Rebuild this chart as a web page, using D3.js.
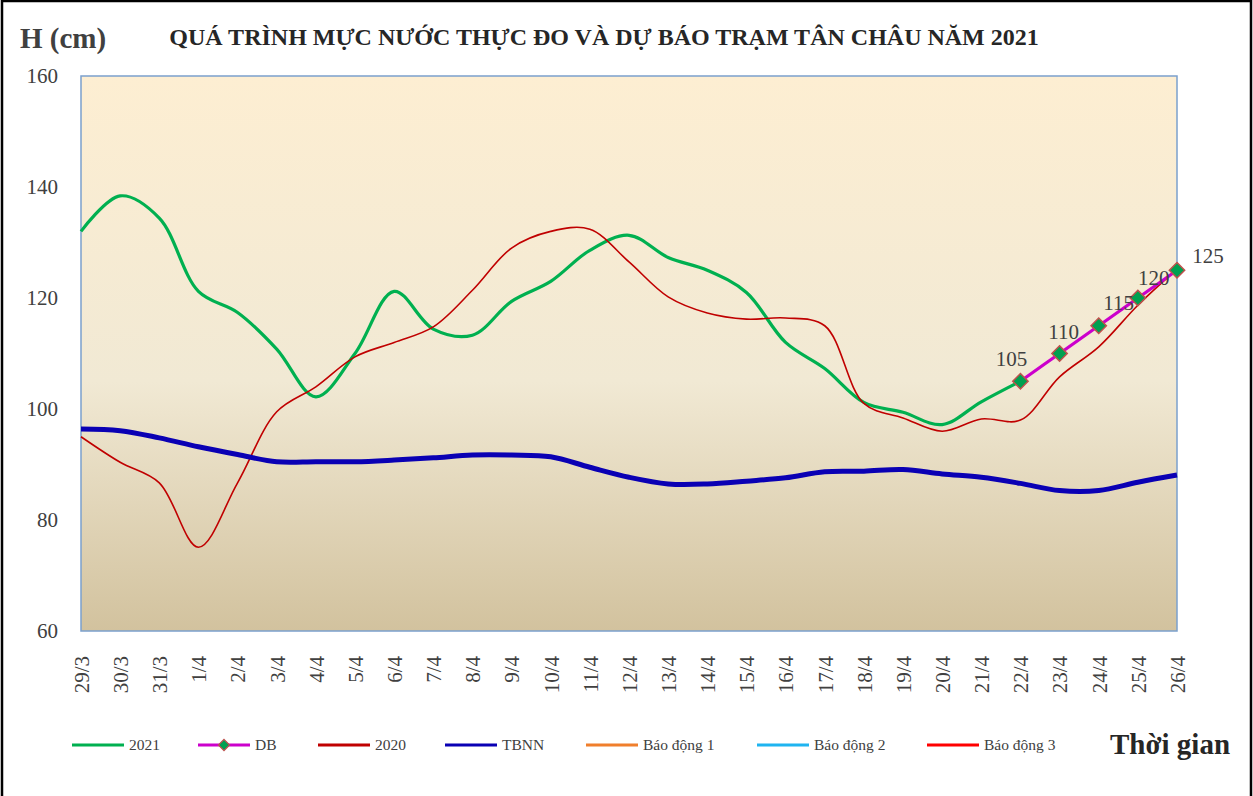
<!DOCTYPE html>
<html>
<head>
<meta charset="utf-8">
<script src="https://cdnjs.cloudflare.com/ajax/libs/d3/7.8.5/d3.min.js"></script>
<style>
  body { margin: 0; background: #fff; }
  text { font-family: "Liberation Serif", "Times New Roman", serif; }
</style>
</head>
<body>
<script>
var dates = ["29/3","30/3","31/3","1/4","2/4","3/4","4/4","5/4","6/4","7/4","8/4","9/4","10/4","11/4",
  "12/4","13/4","14/4","15/4","16/4","17/4","18/4","19/4","20/4","21/4","22/4","23/4","24/4","25/4","26/4"];

// measured 2021 (to 22/4)
var h2021 = [132,138.4,134.4,121.2,117.4,110.8,102.2,110,121.2,114.4,113.3,119.4,123,128.6,
  131.3,127.3,125,121,112,107.3,101.2,99.4,97.2,101.3,105];
// forecast from 22/4
var dbDates = ["22/4","23/4","24/4","25/4","26/4"];
var dbValues = [105,110,115,120,125];
var h2020 = [95,90.4,86.7,75.1,86.7,99.5,104,109.4,112,114.8,121.4,129,132,132.4,
  126.5,120.2,117.3,116.2,116.4,115,101,98.4,96,98.2,98,105.8,111.2,118.7,125.2];
var tbnn = [96.4,96.1,94.8,93.2,91.8,90.5,90.5,90.5,90.8,91.2,91.7,91.7,91.4,89.5,
  87.7,86.5,86.5,87,87.6,88.7,88.8,89.1,88.3,87.7,86.6,85.3,85.3,86.8,88.1];
var yTicks = [60,80,100,120,140,160];

var W = 1253, H = 796;
var pLeft = 81, pRight = 1177, pTop = 76, pBottom = 631;

var svg = d3.select("body").append("svg")
  .attr("width", W).attr("height", H);

svg.append("rect").attr("x",2).attr("y",1).attr("width",W-4).attr("height",H+10)
  .attr("fill","#fff").attr("stroke","#000").attr("stroke-width",2.5);

var defs = svg.append("defs");
var grad = defs.append("linearGradient").attr("id","bg")
  .attr("x1",0).attr("y1",0).attr("x2",0).attr("y2",1);
grad.append("stop").attr("offset","0%").attr("stop-color","#fdeed2");
grad.append("stop").attr("offset","55%").attr("stop-color","#f1e9d4");
grad.append("stop").attr("offset","100%").attr("stop-color","#d2c29e");

var x = d3.scalePoint().domain(dates).range([pLeft, pRight]);
var y = d3.scaleLinear().domain([60,160]).range([pBottom, pTop]);

svg.append("rect").attr("x",pLeft).attr("y",pTop)
  .attr("width",pRight-pLeft).attr("height",pBottom-pTop)
  .attr("fill","url(#bg)").attr("stroke","#7ba0cd").attr("stroke-width",1.5);

// axes
var ya = svg.append("g").attr("transform","translate("+pLeft+",0)")
  .call(d3.axisLeft(y).tickValues(yTicks).tickSize(0).tickPadding(23));
ya.select(".domain").remove();
ya.selectAll("text").style("font-size","21px").attr("fill","#404040")
  .style("font-family","'Liberation Serif', serif");

var xa = svg.append("g").attr("transform","translate(0,"+pBottom+")")
  .call(d3.axisBottom(x).tickSize(0));
xa.select(".domain").remove();
xa.selectAll("text")
  .attr("transform","rotate(-90)")
  .attr("x",-25).attr("y",0).attr("dy","0.35em")
  .style("text-anchor","end").style("font-size","21px")
  .style("font-family","'Liberation Serif', serif")
  .attr("fill","#404040");

var smooth = d3.curveCatmullRom.alpha(0.5);
function lineOf(ds) {
  return d3.line().x(function(d,i){ return x(ds[i]); }).y(function(d){ return y(d); }).curve(smooth);
}

svg.append("path").datum(h2021).attr("d", lineOf(dates))
  .attr("fill","none").attr("stroke","#00b050").attr("stroke-width",3.2);
svg.append("path").datum(h2020).attr("d", lineOf(dates))
  .attr("fill","none").attr("stroke","#c00000").attr("stroke-width",1.6);
svg.append("path").datum(tbnn).attr("d", lineOf(dates))
  .attr("fill","none").attr("stroke","#0a00b4").attr("stroke-width",5);
svg.append("path").datum(dbValues).attr("d", lineOf(dbDates))
  .attr("fill","none").attr("stroke","#cc00cc").attr("stroke-width",3.2);

var diamond = d3.symbol().type(d3.symbolDiamond2).size(150);
svg.selectAll(".mk").data(dbValues).enter().append("path")
  .attr("class","mk")
  .attr("transform", function(d,i){ return "translate("+x(dbDates[i])+","+y(d)+")"; })
  .attr("d", diamond)
  .attr("fill","#00a050").attr("stroke","#c0504d").attr("stroke-width",1.5);

// label nudges (pixels) as placed in the original
var lblDx = [-9,4,20,16,31], lblDy = [-15,-15,-16,-13,-7];
svg.selectAll(".lbl").data(dbValues).enter().append("text")
  .attr("x", function(d,i){ return x(dbDates[i]) + lblDx[i]; })
  .attr("y", function(d,i){ return y(d) + lblDy[i]; })
  .attr("text-anchor","middle").style("font-size","21px").attr("fill","#404040")
  .text(function(d){ return d; });

// titles
svg.append("text").attr("x",20).attr("y",48).style("font-size","29px")
  .style("font-weight","bold").attr("fill","#404040").text("H (cm)");
svg.append("text").attr("x",604).attr("y",45).attr("text-anchor","middle")
  .style("font-size","24px").style("font-weight","bold").attr("fill","#262626")
  .text("QUÁ TRÌNH MỰC NƯỚC THỰC ĐO VÀ DỰ BÁO TRẠM TÂN CHÂU NĂM 2021");
svg.append("text").attr("x",1110).attr("y",754).style("font-size","29px")
  .style("font-weight","bold").attr("fill","#262626").text("Thời gian");

// legend
var legNames = ["2021","DB","2020","TBNN","Báo động 1","Báo động 2","Báo động 3"];
var legColors = ["#00b050","#cc00cc","#c00000","#0a00b4","#f07f2c","#1fb4f0","#ff0000"];
var legX = [72,198,318,445,586,757,927];
var leg = svg.selectAll(".leg").data(legNames).enter().append("g")
  .attr("transform", function(d,i){ return "translate("+legX[i]+",745)"; });
leg.append("line").attr("x1",0).attr("x2",52).attr("y1",0).attr("y2",0)
  .attr("stroke", function(d,i){ return legColors[i]; }).attr("stroke-width",3);
leg.filter(function(d){ return d === "DB"; }).append("path")
  .attr("transform","translate(26,0)").attr("d", d3.symbol().type(d3.symbolDiamond2).size(80))
  .attr("fill","#00a050").attr("stroke","#c0504d").attr("stroke-width",1.2);
leg.append("text").attr("x",57).attr("y",5).style("font-size","15.5px").attr("fill","#404040")
  .text(function(d){ return d; });
</script>
</body>
</html>
